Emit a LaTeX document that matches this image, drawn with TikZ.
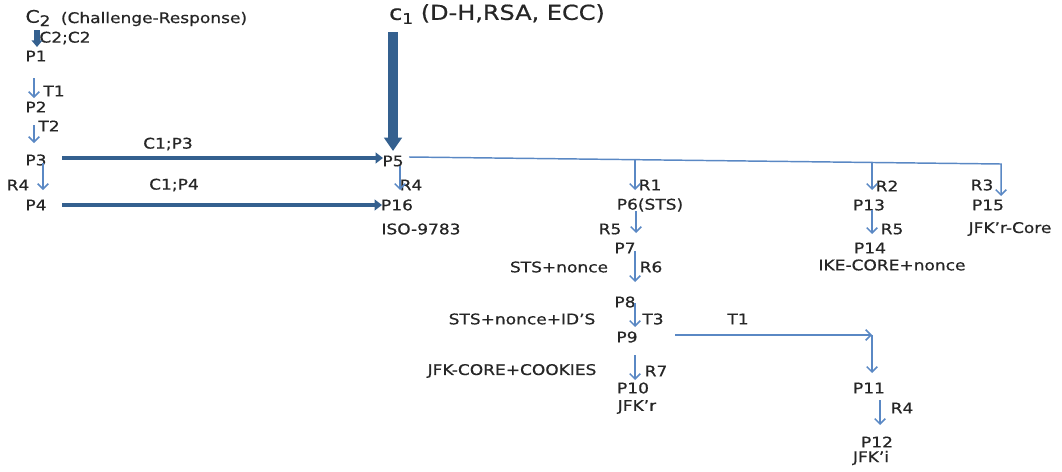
\documentclass[tikz,border=0pt]{standalone}
\usepackage{fontspec}
\setmainfont[FakeStretch=1.16,FakeBold=0.6]{DejaVu Sans}
\usetikzlibrary{arrows.meta,calc}
\definecolor{thickblue}{HTML}{34608F}
\definecolor{thinblue}{HTML}{5A88C4}
\definecolor{txt}{HTML}{262626}
\tikzset{
  lbl/.style={inner sep=0pt, text=txt, font=\fontsize{11}{13}\selectfont},
  tarrow/.style={draw=thinblue, line width=1.1pt, -{Straight Barb[length=4pt,width=8pt]}},
  bigarrow/.style={draw=thickblue, line width=3pt, -{Triangle[length=5.5pt,width=8pt]}},
  hugearrow/.style={draw=thickblue, line width=7pt, -{Triangle[length=10pt,width=13pt]}},
  midarrow/.style={draw=thickblue, line width=4pt, -{Triangle[length=5pt,width=8pt]}},
}
\begin{document}
\begin{tikzpicture}[x=0.75pt,y=-0.75pt]
\useasboundingbox (0,0) rectangle (1062,471);
% headings
\node[lbl, font=\fontsize{13}{15}\selectfont] (c2) at (38,18) {C\raisebox{-0.35ex}{\fontsize{11}{13}\selectfont 2}};
\node[lbl] (chal) at (154,19) {(Challenge-Response)};
\node[lbl, font=\fontsize{15.5}{18}\selectfont] (c1) at (497,14) {c\raisebox{-0.35ex}{\fontsize{11}{13}\selectfont 1} (D-H,RSA, ECC)};
% left column
\node[lbl] (c2c2) at (65,38) {C2;C2};
\node[lbl] (P1) at (36,56) {P1};
\node[lbl] (t1a) at (54,91) {T1};
\node[lbl] (P2) at (36,107) {P2};
\node[lbl] (t2) at (49,126) {T2};
\node[lbl] (P3) at (36,160) {P3};
\node[lbl] (r4a) at (18,185) {R4};
\node[lbl] (P4) at (36,205) {P4};
\node[lbl] (c1p3) at (168,144) {C1;P3};
\node[lbl] (c1p4) at (174,185) {C1;P4};
% P5 group
\node[lbl] (P5) at (393,161) {P5};
\node[lbl] (r4b) at (411,185) {R4};
\node[lbl] (P16) at (397,205) {P16};
\node[lbl] (iso) at (421,229) {ISO-9783};
% STS column
\node[lbl] (r1) at (650,185) {R1};
\node[lbl] (P6) at (650,205) {P6(STS)};
\node[lbl] (r5a) at (610,229) {R5};
\node[lbl] (P7) at (625,248) {P7};
\node[lbl] (r6) at (651,267) {R6};
\node[lbl] (stsn) at (559,267) {STS+nonce};
\node[lbl] (P8) at (625,302) {P8};
\node[lbl] (t3) at (653,319) {T3};
\node[lbl] (stsid) at (522,319) {STS+nonce+ID’S};
\node[lbl] (t1b) at (738,319) {T1};
\node[lbl] (P9) at (627,337) {P9};
\node[lbl] (r7) at (656,371) {R7};
\node[lbl] (jfkc) at (512,371) {JFK-CORE+COOKIES};
\node[lbl] (P10) at (633,388) {P10};
\node[lbl] (jfkr) at (637,407) {JFK’r};
\node[lbl] (P11) at (869,388) {P11};
\node[lbl] (r4c) at (902,408) {R4};
\node[lbl] (P12) at (877,442) {P12};
\node[lbl] (jfki) at (871,458) {JFK’i};
% right columns
\node[lbl] (r2) at (887,186) {R2};
\node[lbl] (P13) at (869,205) {P13};
\node[lbl] (r5b) at (892,229) {R5};
\node[lbl] (P14) at (870,248) {P14};
\node[lbl] (ike) at (892,265) {IKE-CORE+nonce};
\node[lbl] (r3) at (982,185) {R3};
\node[lbl] (P15) at (988,205) {P15};
\node[lbl] (jfkrc) at (1010,229) {JFK’r-Core};
% thick arrows
\draw[midarrow] ($(c2)+(-1,12)$) -- ($(P1)+(1,-9)$);
\draw[hugearrow] ($(c1)+(-104,18)$) -- ($(P5)+(0,-10)$);
\draw[bigarrow] ($(P3)+(26,-2)$) -- ($(P5)+(-10,-3)$);
\draw[bigarrow] ($(P4)+(26,0)$) -- ($(P16)+(-15,0)$);
% thin arrows, left
\draw[tarrow] ($(P1)+(-2,22)$) -- ($(P2)+(-2,-9)$);
\draw[tarrow] ($(P2)+(-2,18)$) -- ($(P3)+(-2,-17)$);
\draw[tarrow] ($(P3)+(7,3)$) -- ($(P4)+(7,-15)$);
% P5 bus
\draw[tarrow] ($(P5)+(16,-4)$) -- ($(P15)+(13,-41)$) -- ($(P15)+(13,-9)$);
\draw[tarrow] ($(P5)+(7,5)$) -- ($(P16)+(3,-15)$);
\draw[tarrow] ($(P6)+(-15,-45.5)$) -- ($(P6)+(-15,-15)$);
\draw[tarrow] ($(P13)+(3,-42.5)$) -- ($(P13)+(3,-15)$);
% STS column
\draw[tarrow] ($(P6)+(-14,6)$) -- ($(P7)+(11,-15)$);
\draw[tarrow] ($(P7)+(10,3)$) -- ($(P8)+(10,-20)$);
\draw[tarrow] ($(P8)+(10,1)$) -- ($(P9)+(8,-10)$);
\draw[tarrow] ($(P9)+(8,18)$) -- ($(P10)+(2,-8)$);
\draw[tarrow] ($(P9)+(48,-2)$) -- ($(P11)+(3,-53)$);
\draw[tarrow] ($(P11)+(3,-53)$) -- ($(P11)+(3,-15)$);
\draw[tarrow] ($(P11)+(11,12)$) -- ($(P12)+(3,-17)$);
\draw[tarrow] ($(P13)+(3,5)$) -- ($(P14)+(2,-14)$);
\end{tikzpicture}
\end{document}
